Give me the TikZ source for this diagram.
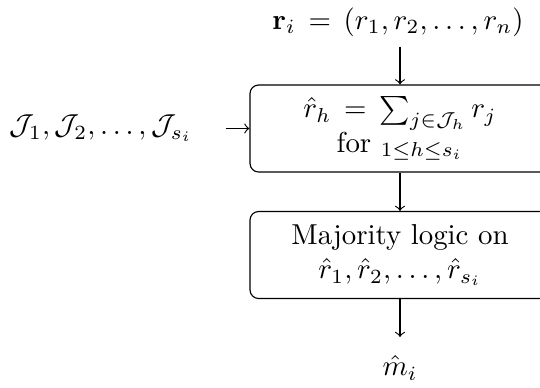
\documentclass[tikz,border=0pt]{standalone}
\usepackage{amsmath, amssymb}
\usetikzlibrary{positioning}

\begin{document}
\begin{tikzpicture}[x=0.347pt, y=-0.347pt]

    % Define styles
    \tikzstyle{block} = [draw, rounded corners=3pt, align=center, minimum width=104.1pt, minimum height=30.2pt, inner sep=2pt]
    \tikzstyle{flow} = [->]

    % Frame (the boxes run out on the right)
    \useasboundingbox (0,0) rectangle (540,387);
    \clip (0,0) rectangle (540,387);

    % Blocks
    \node[block] (sum) at (400,128.5) {$\hat{r}_h \,=\, \sum_{j\in\mathcal{J}_h} r_j$\\ for $_{1\leq h\leq s_i}$};
    \node[block] (maj) at (400,255) {Majority logic on\\ $\hat{r}_1, \hat{r}_2, \ldots, \hat{r}_{s_i}$};

    % Inputs and output
    \node (ri) at (398,22) {$\mathbf{r}_i \,=\, (r_1, r_2, \ldots, r_n)$};
    \node (jset) at (101,128.5) {$\mathcal{J}_1, \mathcal{J}_2, \ldots, \mathcal{J}_{s_i}$};
    \node (mhat) at (400,368) {$\hat{m}_i$};

    % Arrows
    \draw[flow] (ri.south -| sum.north) -- (sum.north);
    \draw[flow, shorten <=8pt] (jset) -- (sum);
    \draw[flow] (sum) -- (maj);
    \draw[flow, shorten >=3pt] (maj) -- (mhat);

\end{tikzpicture}
\end{document}
